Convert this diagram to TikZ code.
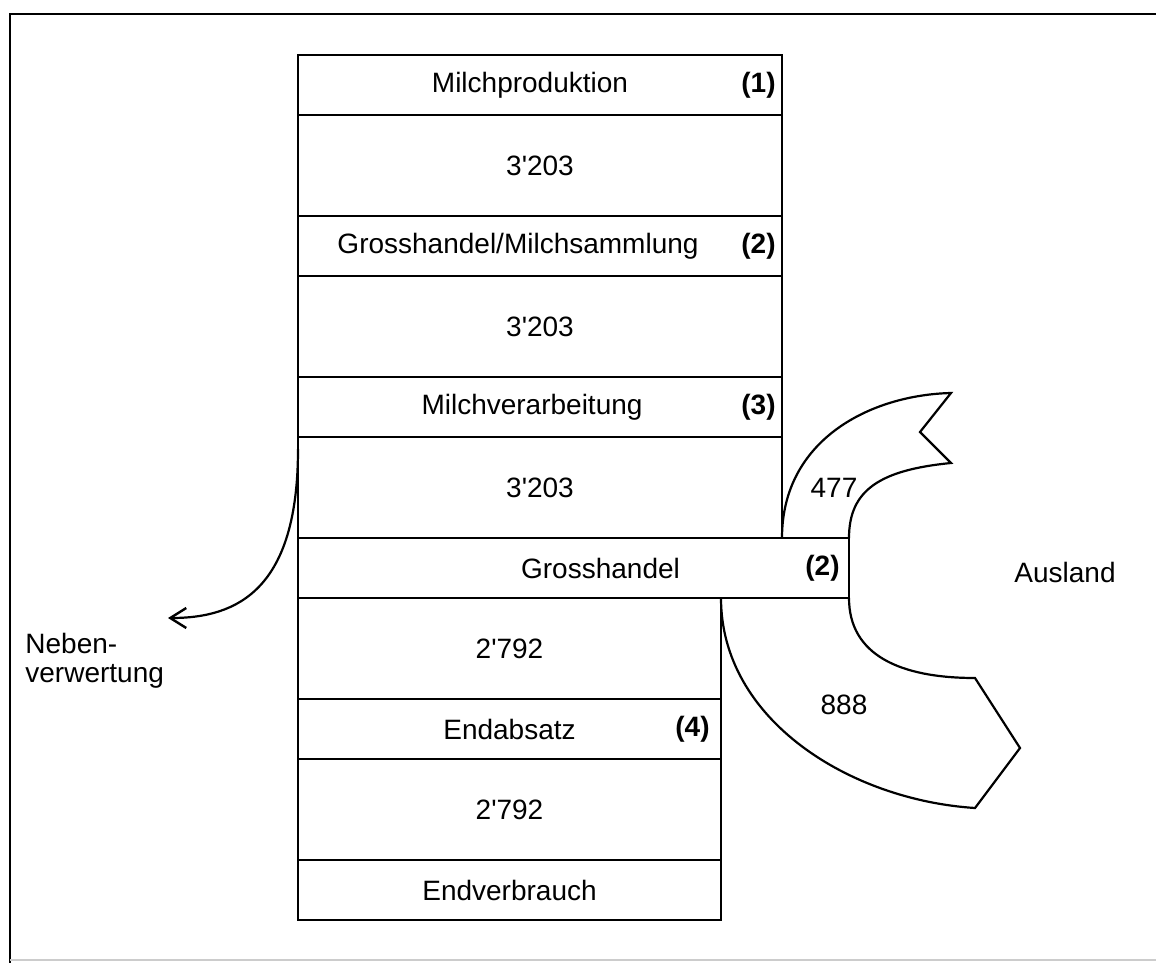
\documentclass[tikz,border=0pt]{standalone}
\usepackage{fontspec}
\setmainfont{Liberation Sans}
\usetikzlibrary{arrows.meta,positioning,calc}

\begin{document}
\begin{tikzpicture}[
  x=0.5pt, y={(0pt,-0.5pt)},
  every node/.style={font=\fontsize{14}{14.5}\selectfont},
  stage/.style={draw, line width=1.1pt, outer sep=0pt, inner sep=0pt, anchor=north west, minimum height=30pt},
  flowbox/.style={draw, line width=1.1pt, outer sep=0pt, inner sep=0pt, anchor=north west, minimum height=50.5pt},
  tag/.style={font=\fontsize{14}{14.5}\selectfont\bfseries, anchor=east, inner sep=0pt},
  ribbon/.style={line width=1.1pt, line join=miter},
  arr/.style={-{Straight Barb[length=8pt, width=10pt, line width=1.2pt]}, line width=1.1pt},
]
\useasboundingbox (0,0) rectangle (1156,963);

%% ── Frame ────────────────────────────────────────────────────────────────
\draw[line width=1.2pt] (1156,14) -- (10,14) -- (10,963);
\draw[gray!40, line width=0.6pt] (10,960) -- (1156,960);

%% ── Upper column (domestic chain) ────────────────────────────────────────
\node[stage, minimum width=242pt] (prod) at (298,55) {Milchproduktion\rule{10pt}{0pt}};
\node[tag] (t1) at ([xshift=-3pt]prod.east) {(1)};
\node[flowbox, minimum width=242pt] (v1) at (prod.south west) {3\textquotesingle203};
\node[stage, minimum width=242pt] (gms) at (v1.south west) {Grosshandel/Milchsammlung\rule{22pt}{0pt}};
\node[tag] (t2a) at ([xshift=-3pt]gms.east) {(2)};
\node[flowbox, minimum width=242pt] (v2) at (gms.south west) {3\textquotesingle203};
\node[stage, minimum width=242pt] (verarb) at (v2.south west) {Milchverarbeitung\rule{8pt}{0pt}};
\node[tag] (t3) at ([xshift=-3pt]verarb.east) {(3)};
\node[flowbox, minimum width=242pt] (v3) at (verarb.south west) {3\textquotesingle203};

%% ── Wholesale (wide) and lower column ────────────────────────────────────
\node[stage, minimum width=275.5pt] (gh) at (v3.south west) {\hspace{27pt}Grosshandel};
\node[tag] (t2b) at ([xshift=-4.5pt]gh.east) {(2)};
\node[flowbox, minimum width=211.5pt] (v4) at (gh.south west) {2\textquotesingle792};
\node[stage, minimum width=211.5pt] (endab) at (v4.south west) {Endabsatz};
\node[tag] (t4) at ([xshift=-5.5pt]endab.east) {(4)};
\node[flowbox, minimum width=211.5pt] (v5) at (endab.south west) {2\textquotesingle792};
\node[stage, minimum width=211.5pt] (endv) at (v5.south west) {Endverbrauch};

%% ── Import ribbon (477) ──────────────────────────────────────────────────
\draw[ribbon] (v3.south east) .. controls (782,440) and (870,395) .. (951,393)
  -- (920,432) -- (951,463)
  .. controls (880,470) and (849,490) .. (gh.north east);
\node (l477) at (834,488) {477};

%% ── Export ribbon (888) ──────────────────────────────────────────────────
\draw[ribbon] (gh.south east) .. controls (849,655) and (900,678) .. (975,678)
  -- (1020,748) -- (975,808)
  .. controls (850,800) and (721,720) .. (v4.north east);
\node (l888) at (844,705) {888};

\node (ausland) at (1065,572) {Ausland};

%% ── Side stream ──────────────────────────────────────────────────────────
\coordinate (nvstart) at ($(v3.north west)+(0,12)$);
\coordinate (nvend) at (168,618);
\draw[arr] (nvstart) .. controls +(0,140) and +(70,0) .. (nvend);
\node[align=left, anchor=west, inner sep=0pt] (neben) at (25,661) {Neben-\\verwertung};

\end{tikzpicture}
\end{document}
